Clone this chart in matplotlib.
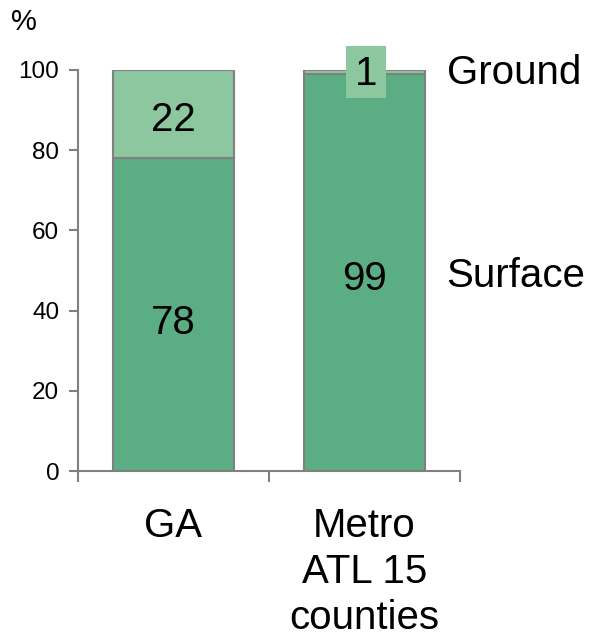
import matplotlib
matplotlib.use("Agg")
import matplotlib.pyplot as plt
import matplotlib.patches as mpatches
import numpy as np

plt.rcParams['font.family'] = ['Liberation Sans', 'DejaVu Sans']

# data
categories = ["GA", "Metro\nATL 15\ncounties"]
surface = [78, 99]
ground = [22, 1]
series_names = ["Surface", "Ground"]

dark = "#5bae83"
light = "#8dc7a0"
edge = "#808080"

fig = plt.figure(figsize=(5.94, 6.41), dpi=100)
ax = fig.add_axes([0.1313, 0.2652, 0.6431, 0.6256])

x = np.arange(len(categories))
w = 0.63
ax.bar(x, surface, w, color=dark, edgecolor=edge, linewidth=1.5, zorder=2)
ax.bar(x, ground, w, bottom=surface, color=light, edgecolor=edge, linewidth=1.5, zorder=2)

big = 29

# value labels
ax.text(x[0], surface[0] / 2 - 2, str(surface[0]), ha="center", va="center", fontsize=big)
ax.text(x[0], surface[0] + ground[0] / 2 - 1.5, str(ground[0]), ha="center", va="center", fontsize=big)
ax.text(x[1], surface[1] / 2 - 1.7, str(surface[1]), ha="center", va="center", fontsize=big)
# small segment: label sits on a light box above the bar
ly = surface[1] + ground[1] / 2
ax.add_patch(mpatches.Rectangle((x[1] + 0.01 - 0.105, ly - 6.5), 0.21, 13,
                                facecolor=light, edgecolor="none", zorder=3, clip_on=False))
ax.text(x[1] + 0.01, ly - 0.5, str(ground[1]), ha="center", va="center", fontsize=big, zorder=4)

# series labels at the right
ax.text(1.43, 99.3, series_names[1], ha="left", va="center", fontsize=big, clip_on=False)
ax.text(1.43, 48.7, series_names[0], ha="left", va="center", fontsize=big, clip_on=False)

ax.set_xlim(-0.5, 1.5)
ax.set_ylim(0, 100)
ax.set_yticks([0, 20, 40, 60, 80, 100])
ax.tick_params(axis="y", labelsize=17.5, length=6.5, width=1.5, color=edge, pad=7)
ax.set_xticks([-0.5, 0.5, 1.5])
ax.set_xticklabels([])
ax.tick_params(axis="x", length=8, width=1.5, color=edge, direction="out")
for s in ["top", "right"]:
    ax.spines[s].set_visible(False)
for s in ["left", "bottom"]:
    ax.spines[s].set_color(edge)
    ax.spines[s].set_linewidth(1.5)

# category labels
for xi, lab in zip(x, categories):
    ax.text(xi, -9.0, lab, ha="center", va="top", fontsize=big, linespacing=1.27,
            clip_on=False)

fig.text(24 / 594, 1 - 22 / 641, "%", ha="center", va="center", fontsize=21)

fig.savefig("out.png", dpi=100)
